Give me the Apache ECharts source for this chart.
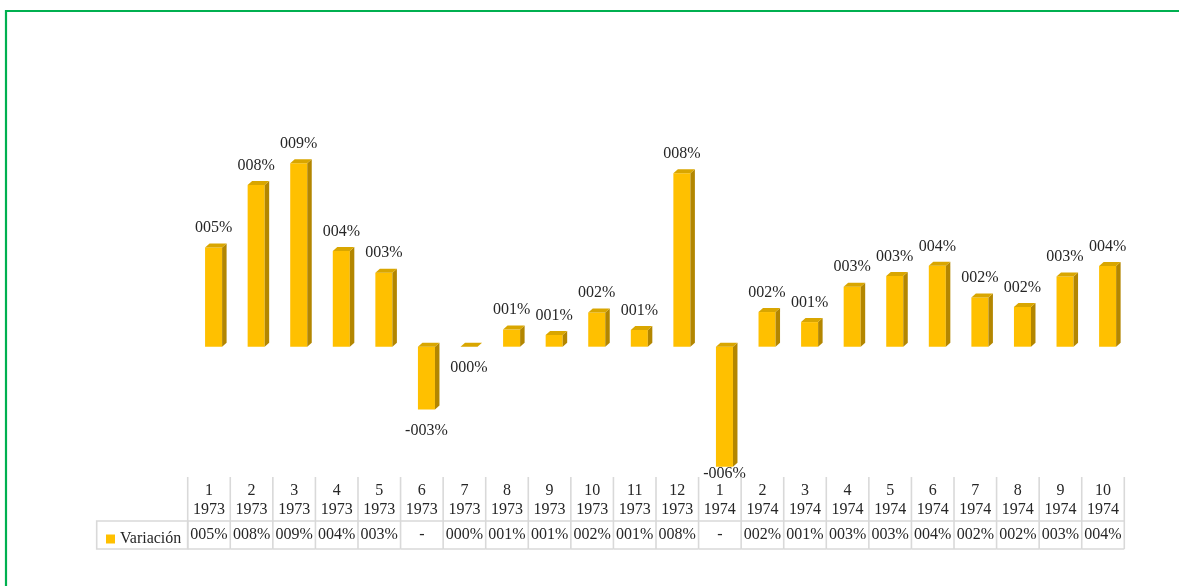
<!DOCTYPE html>
<html>
<head>
<meta charset="utf-8">
<style>
  html, body { margin: 0; padding: 0; background: #fff; }
  #chart { width: 1179px; height: 586px; }
</style>
<script src="https://cdn.jsdelivr.net/npm/echarts@6/dist/echarts.min.js"></script>
</head>
<body>
<div id="chart"></div>
<script>
// datos del grafico (variacion mensual, en %)
const meses = ['1', '2', '3', '4', '5', '6', '7', '8', '9', '10', '11', '12',
               '1', '2', '3', '4', '5', '6', '7', '8', '9', '10'];
const anios = ['1973', '1973', '1973', '1973', '1973', '1973', '1973', '1973', '1973', '1973', '1973', '1973',
               '1974', '1974', '1974', '1974', '1974', '1974', '1974', '1974', '1974', '1974'];
const variacion = [4.63, 7.56, 8.57, 4.47, 3.46, -2.94, 0, 0.8, 0.55, 1.6, 0.78, 8.10,
                   -5.61, 1.62, 1.15, 2.8, 3.3, 3.78, 2.3, 1.86, 3.28, 3.77];
const serieNombre = 'Variación';

const FONT = "'Liberation Serif', 'DejaVu Serif', serif";
const TXT = '#262626';
const LINEA = '#d9d9d9';

const categorias = meses.map((m, i) => m + '\n' + anios[i]);

// formato tipo Excel "000%"
function fmt(v) {
    const n = String(Math.round(Math.abs(v))).padStart(3, '0');
    return (v < 0 ? '-' : '') + n + '%';
}
function fmtTabla(v) {
    return v < 0 ? '-' : fmt(v);
}

// barras con efecto 3D (cara frontal, lateral y superior)
function renderBarra(params, api) {
    const idx = api.value(0);
    const val = api.value(1);
    const p0 = api.coord([idx, 0]);
    const p1 = api.coord([idx, val]);
    const bw = api.size([1, 0])[0];
    const fw = bw * 0.4;
    const x0 = p0[0] + bw * 0.108 - fw / 2;
    const yTop = Math.min(p0[1], p1[1]);
    const yBot = Math.max(p0[1], p1[1]);
    const dx = 4.5, dy = -4;

    const labelY = val > 0 ? yTop - 19.5 : Math.min(yBot + 21, 474);

    return {
        type: 'group',
        children: [
            {
                type: 'rect',
                shape: { x: x0, y: yTop, width: fw, height: yBot - yTop },
                style: { fill: '#FFC000' }
            },
            {
                type: 'polygon',
                shape: { points: [[x0 + fw, yTop], [x0 + fw + dx, yTop + dy], [x0 + fw + dx, yBot + dy], [x0 + fw, yBot]] },
                style: { fill: '#B38600' }
            },
            {
                type: 'polygon',
                shape: { points: [[x0, yTop], [x0 + dx, yTop + dy], [x0 + fw + dx, yTop + dy], [x0 + fw, yTop]] },
                style: { fill: '#D9A600' }
            },
            {
                type: 'text',
                style: {
                    x: x0 + fw / 2, y: labelY, text: fmt(val),
                    align: 'center', verticalAlign: 'middle',
                    font: '16px ' + FONT, fill: TXT
                }
            }
        ]
    };
}

// tabla de datos bajo el grafico
function renderTabla(params, api) {
    const idx = api.value(0);
    const val = api.value(1);
    const c = api.coord([idx, 0]);
    const bw = api.size([1, 0])[0];
    const xl = c[0] - bw / 2, xr = c[0] + bw / 2;
    const yTop = api.coord([idx, 72])[1];
    const yMid = api.coord([idx, 28])[1];
    const yBot = c[1];
    const ls = { stroke: LINEA, lineWidth: 1.6 };

    const children = [
        { type: 'line', shape: { x1: xl, y1: yTop, x2: xl, y2: yBot }, style: ls },
        { type: 'line', shape: { x1: xl, y1: yMid, x2: xr, y2: yMid }, style: ls },
        { type: 'line', shape: { x1: xl, y1: yBot, x2: xr, y2: yBot }, style: ls },
        {
            type: 'text',
            style: {
                x: c[0], y: (yTop + yMid) / 2 + 1, text: meses[idx] + '\n' + anios[idx],
                align: 'center', verticalAlign: 'middle', lineHeight: 19,
                font: '16px ' + FONT, fill: TXT
            }
        },
        {
            type: 'text',
            style: {
                x: c[0], y: (yMid + yBot) / 2, text: fmtTabla(val),
                align: 'center', verticalAlign: 'middle',
                font: '16px ' + FONT, fill: TXT
            }
        }
    ];
    if (idx === meses.length - 1) {
        children.push({ type: 'line', shape: { x1: xr, y1: yTop, x2: xr, y2: yBot }, style: ls });
    }
    return { type: 'group', children: children };
}

const datos = variacion.map((v, i) => [i, v]);

const chart = echarts.init(document.getElementById('chart'));
chart.setOption({
    animation: false,
    backgroundColor: '#fff',
    legend: {
        data: [serieNombre],
        left: 101, top: 526,
        icon: 'rect', itemWidth: 9, itemHeight: 9, itemGap: 4,
        textStyle: { fontFamily: FONT, fontSize: 16, color: TXT }
    },
    grid: [
        { left: 187.7, right: 54.7, top: 89.9, height: 385.2 },
        { left: 187.7, right: 54.7, top: 477, height: 72 }
    ],
    xAxis: [
        { type: 'category', gridIndex: 0, data: categorias, show: false },
        { type: 'category', gridIndex: 1, data: categorias, show: false }
    ],
    yAxis: [
        { type: 'value', gridIndex: 0, min: -6, max: 12, show: false },
        { type: 'value', gridIndex: 1, min: 0, max: 72, show: false }
    ],
    graphic: [
        {
            type: 'rect',
            shape: { x: 6, y: 11, width: 2000, height: 2000 },
            style: { fill: 'none', stroke: '#00B050', lineWidth: 2.2 },
            silent: true
        },
        {
            type: 'rect',
            shape: { x: 96.7, y: 521, width: 91, height: 28 },
            style: { fill: 'none', stroke: LINEA, lineWidth: 1.6 },
            silent: true
        }
    ],
    series: [
        {
            name: serieNombre,
            type: 'custom',
            xAxisIndex: 0, yAxisIndex: 0,
            itemStyle: { color: '#FFC000' },
            renderItem: renderBarra,
            encode: { x: 0, y: 1 },
            data: datos
        },
        {
            name: 'tabla',
            type: 'custom',
            xAxisIndex: 1, yAxisIndex: 1,
            renderItem: renderTabla,
            encode: { x: 0, y: 1 },
            data: datos
        }
    ]
});
</script>
</body>
</html>
